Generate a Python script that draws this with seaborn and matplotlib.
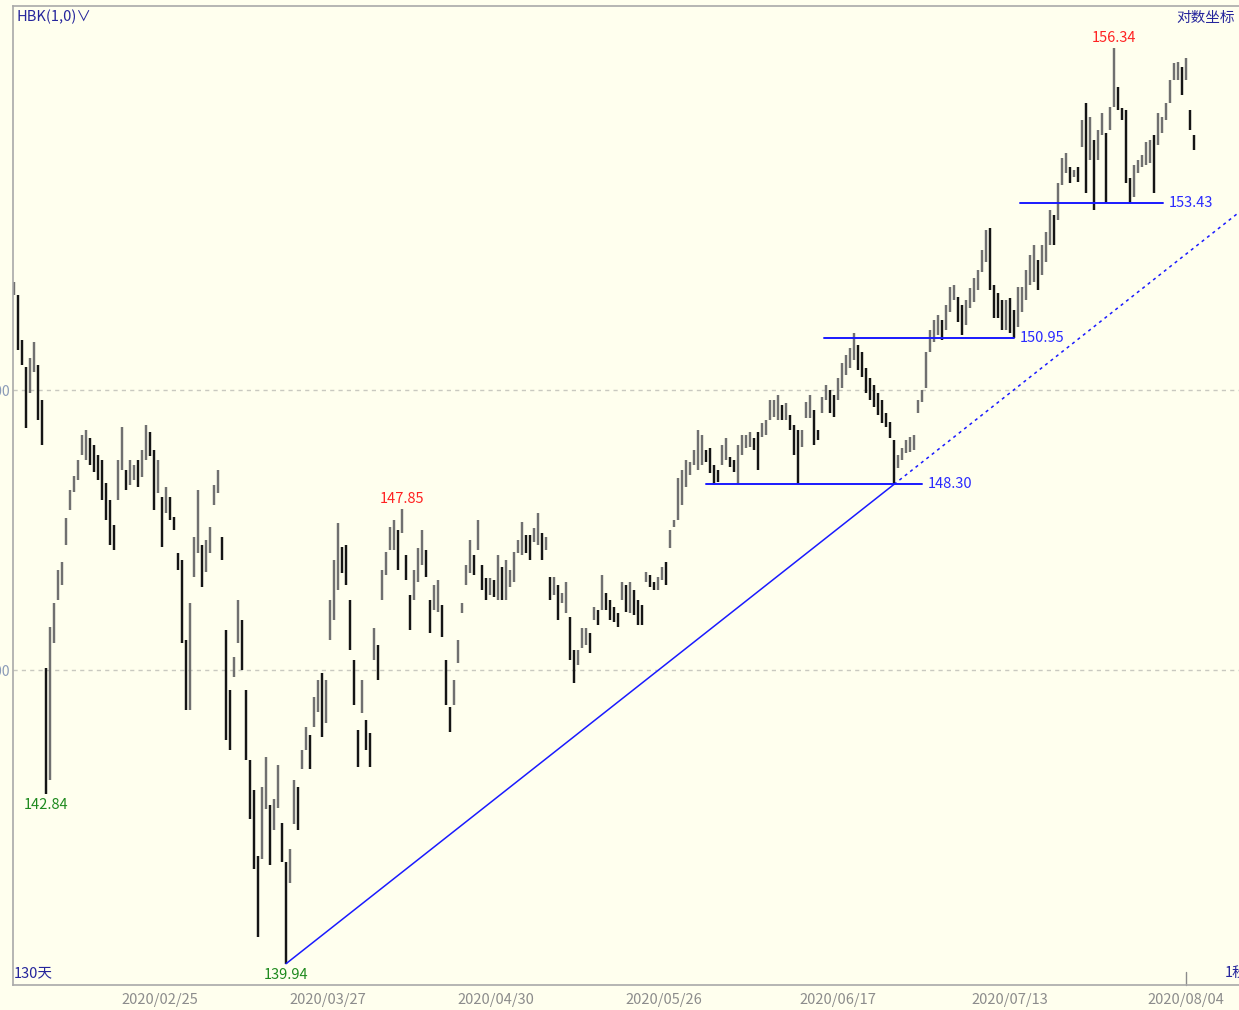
import numpy as np
import pandas as pd
import seaborn as sns
import matplotlib.pyplot as plt
from matplotlib.ticker import NullLocator, FixedLocator, FixedFormatter
import matplotlib.transforms as mtransforms

# bar highs / lows, one bar per slot
high = [
    151.98, 151.74, 150.91, 150.42, 150.58, 150.88, 150.46, 149.82, 145.04, 145.76,
    146.19, 146.77, 146.92, 147.70, 148.20, 148.45, 148.74, 149.19, 149.28, 149.14,
    149.01, 148.83, 148.74, 148.33, 148.02, 147.58, 148.74, 149.33, 148.56, 148.74,
    148.65, 148.74, 148.92, 149.37, 149.24, 148.92, 148.74, 148.07, 148.25, 148.07,
    147.72, 147.08, 146.95, 145.54, 146.19, 147.36, 148.20, 147.22, 147.31, 147.54,
    148.29, 148.56, 147.36, 145.71, 144.66, 145.24, 146.24, 145.89, 144.66, 143.44,
    142.92, 141.77, 142.97, 143.49, 142.66, 142.75, 143.35, 142.35, 141.68, 141.89,
    143.09, 142.97, 143.61, 144.01, 143.87, 144.53, 144.83, 144.96, 144.83, 146.24,
    146.95, 147.61, 147.18, 147.22, 146.24, 145.18, 143.96, 144.83, 144.13, 143.91,
    145.75, 145.45, 146.77, 147.09, 147.54, 147.66, 147.49, 147.85, 147.04, 146.33,
    146.77, 147.17, 147.49, 147.13, 146.24, 146.51, 146.60, 146.15, 145.18, 144.36,
    144.83, 145.54, 146.19, 146.86, 147.31, 147.04, 147.66, 146.86, 146.63, 146.63,
    146.60, 147.04, 146.83, 146.95, 146.77, 147.09, 147.31, 147.63, 147.40, 147.40,
    147.52, 147.79, 147.43, 147.36, 146.65, 146.65, 146.51, 146.37, 146.55, 145.94,
    145.36, 145.36, 145.75, 145.75, 145.66, 146.12, 146.06, 146.69, 146.37, 146.24,
    146.12, 146.01, 146.55, 146.51, 146.55, 146.42, 146.24, 146.15, 146.74, 146.69,
    146.56, 146.65, 146.83, 146.92, 147.49, 147.66, 148.42, 148.56, 148.74, 148.70,
    148.92, 149.28, 149.19, 148.92, 148.96, 148.65, 148.56, 149.01, 149.14, 148.79,
    148.74, 149.01, 149.19, 149.19, 149.24, 149.14, 149.24, 149.41, 149.46, 149.82,
    149.82, 149.91, 149.73, 149.77, 149.55, 149.37, 149.28, 149.28, 149.78, 149.91,
    149.64, 149.28, 149.87, 150.09, 150.00, 149.91, 150.22, 150.49, 150.64, 150.77,
    151.04, 150.82, 150.69, 150.40, 150.22, 150.09, 149.95, 149.82, 149.59, 149.42,
    149.10, 148.83, 148.96, 149.10, 149.15, 149.19, 149.82, 150.00, 150.69, 151.10,
    151.28, 151.37, 151.28, 151.56, 151.89, 151.93, 151.70, 151.56, 151.65, 151.87,
    152.05, 152.20, 152.57, 152.94, 152.98, 151.93, 151.78, 151.65, 151.65, 151.69,
    151.47, 151.89, 151.89, 152.20, 152.48, 152.66, 152.39, 152.66, 152.90, 153.31,
    153.21, 153.80, 154.27, 154.36, 154.10, 154.05, 154.10, 154.98, 155.30, 155.04,
    154.61, 154.80, 155.12, 154.74, 155.23, 156.34, 155.61, 155.21, 155.17, 153.90,
    154.14, 154.23, 154.33, 154.57, 154.61, 154.70, 155.12, 155.04, 155.30, 155.74,
    156.06, 156.08, 155.98, 156.15, 155.17, 154.70,
]
low = [
    151.74, 150.73, 150.46, 149.31, 149.95, 150.33, 149.46, 149.01, 142.84, 143.09,
    145.48, 146.24, 146.51, 147.22, 147.84, 148.16, 148.38, 148.83, 148.74, 148.65,
    148.52, 148.38, 148.02, 147.66, 147.22, 147.13, 148.02, 148.56, 148.20, 148.29,
    148.38, 148.25, 148.43, 148.74, 148.81, 147.84, 148.15, 147.18, 147.79, 147.66,
    147.49, 146.77, 145.48, 144.31, 144.31, 146.65, 147.08, 146.46, 146.74, 147.08,
    147.93, 148.15, 146.95, 143.78, 143.61, 144.88, 145.48, 145.01, 143.44, 142.41,
    141.55, 140.40, 141.72, 142.58, 141.63, 142.23, 142.61, 141.67, 139.94, 141.32,
    142.32, 142.23, 143.27, 143.61, 143.27, 144.01, 144.27, 143.84, 144.08, 145.54,
    145.89, 146.42, 146.72, 146.51, 145.36, 144.39, 143.32, 144.25, 143.61, 143.32,
    145.18, 144.83, 146.24, 146.69, 147.13, 147.13, 146.77, 147.43, 146.60, 145.71,
    146.24, 146.55, 146.86, 146.65, 145.66, 146.06, 146.03, 145.59, 144.39, 143.92,
    144.39, 145.13, 146.01, 146.51, 146.72, 146.69, 147.13, 146.42, 146.24, 146.33,
    146.29, 146.24, 146.24, 146.24, 146.46, 146.55, 147.08, 147.04, 147.08, 146.95,
    147.26, 147.22, 146.95, 147.13, 146.24, 146.33, 145.89, 146.19, 146.01, 145.18,
    144.78, 145.10, 145.40, 145.45, 145.31, 145.89, 145.80, 146.06, 146.06, 145.89,
    145.85, 145.77, 146.24, 146.03, 146.01, 145.98, 145.80, 145.80, 146.55, 146.47,
    146.42, 146.42, 146.60, 146.51, 147.17, 147.54, 147.66, 147.93, 148.25, 148.47,
    148.65, 148.56, 148.65, 148.70, 148.51, 148.28, 148.34, 148.65, 148.74, 148.61,
    148.52, 148.30, 148.83, 148.96, 148.97, 148.92, 148.56, 149.15, 149.19, 149.46,
    149.51, 149.46, 149.46, 149.46, 149.28, 148.83, 148.30, 148.97, 149.50, 149.50,
    149.01, 149.10, 149.59, 149.82, 149.59, 149.51, 149.82, 150.04, 150.28, 150.40,
    150.55, 150.37, 150.24, 149.95, 149.82, 149.69, 149.55, 149.41, 149.33, 149.14,
    148.30, 148.60, 148.74, 148.87, 148.88, 148.92, 149.59, 149.78, 150.04, 150.69,
    150.88, 151.01, 150.91, 151.10, 151.43, 151.65, 151.25, 151.01, 151.19, 151.50,
    151.61, 151.83, 152.16, 152.35, 151.83, 151.32, 151.32, 151.10, 151.10, 151.04,
    150.95, 151.15, 151.43, 151.65, 151.93, 151.98, 151.83, 152.11, 152.35, 152.66,
    152.66, 153.12, 153.77, 153.99, 153.80, 153.92, 153.82, 154.48, 153.62, 154.23,
    153.31, 154.23, 154.70, 153.43, 154.80, 155.23, 155.17, 154.98, 153.80, 153.43,
    153.55, 153.99, 154.10, 154.14, 154.18, 153.62, 154.51, 154.74, 154.98, 155.30,
    155.74, 155.74, 155.45, 155.74, 154.80, 154.42,
]

date_labels = ["2020/02/25", "2020/03/27", "2020/04/30", "2020/05/26",
               "2020/06/17", "2020/07/13", "2020/08/04"]
date_slots = [36.5, 78.5, 120.5, 162.5, 206, 249, 293]

grid_levels = [145.0, 150.0]
grid_labels = ["145.00", "150.00"]

# trend line anchors (slot, price)
trend_slots = [68, 220]
trend_prices = [139.94, 148.30]

# horizontal support levels: price, first slot, last slot
level_prices = [148.30, 150.95, 153.43]
level_start = [173, 202.5, 251.5]
level_end = [227, 250, 287.25]

# marked extremes
peak_slots = [275, 97]
peak_prices = [156.34, 147.85]
trough_slots = [8, 68]
trough_prices = [142.84, 139.94]

BG = "#ffffee"
W, H = 1239, 1010

sns.set_theme(style="white")
plt.rcParams['font.family'] = ['Liberation Sans Narrow', 'Noto Sans CJK SC', 'DejaVu Sans']

df = pd.DataFrame({"slot": np.arange(len(high)), "high": high, "low": low})
mid = (df["high"] + df["low"]) / 2
colors = ["#707070" if i == 0 or mid[i] >= mid[i - 1] else "#151515" for i in range(len(df))]

fig = plt.figure(figsize=(W / 100, H / 100), dpi=100, facecolor=BG)
ax = fig.add_axes([13 / W, 1 - 985 / H, 1 - 13 / W, (985 - 6) / H])
ax.set_facecolor(BG)
ax.set_yscale("log")
ax.set_xlim(-0.25, 306.25)
ax.set_ylim(139.58, 157.14)

for lvl in grid_levels:
    ax.axhline(lvl, color="#c9c9c0", lw=1, dashes=(3, 3), zorder=0)

ax.vlines(df["slot"], df["low"], df["high"], colors=colors, lw=1.75, zorder=2)

# trend line: solid between anchors, dotted extension to the right edge
ls = np.log(trend_prices)
slope = (ls[1] - ls[0]) / (trend_slots[1] - trend_slots[0])
sns.lineplot(x=trend_slots, y=trend_prices, color="#1a1aff", lw=1.1, ax=ax, zorder=3)
x_ext = [trend_slots[1], 306.25]
y_ext = [trend_prices[1], float(np.exp(ls[1] + slope * (306.25 - trend_slots[1])))]
ax.plot(x_ext, y_ext, color="#1a1aff", lw=1.1, ls=(0, (2, 2.5)), zorder=3)

for p, s, e in zip(level_prices, level_start, level_end):
    sns.lineplot(x=[s, e], y=[p, p], color="#1a1aff", lw=1.4, ax=ax, zorder=3)
    ax.annotate(f"{p:.2f}", (e, p), xytext=(6, 0), textcoords="offset pixels",
                ha="left", va="center", color="#2a2aff", fontsize=10.5)

for s, p in zip(peak_slots, peak_prices):
    ax.annotate(f"{p:.2f}", (s, p), xytext=(0, 3), textcoords="offset pixels",
                ha="center", va="bottom", color="#ff2222", fontsize=10.5)
for s, p in zip(trough_slots, trough_prices):
    ax.annotate(f"{p:.2f}", (s, p), xytext=(0, -4), textcoords="offset pixels",
                ha="center", va="top", color="#1e8a1e", fontsize=10.5)

# axes styling
for side in ["left", "bottom", "top"]:
    ax.spines[side].set_color("#a9a9a9")
    ax.spines[side].set_linewidth(1.2)
ax.spines["right"].set_visible(False)

ax.yaxis.set_major_locator(FixedLocator(grid_levels))
ax.yaxis.set_major_formatter(FixedFormatter(grid_labels))
ax.yaxis.set_minor_locator(NullLocator())
ax.tick_params(axis="y", length=0, pad=2, labelsize=10, labelcolor="#8a9ab8")

ax.set_xticks(date_slots)
ax.set_xticklabels(date_labels)
ax.tick_params(axis="x", length=0, pad=6, labelsize=10.5, labelcolor="#8c8c8c")
ax.grid(False)

# small tick above the last date
trans = mtransforms.blended_transform_factory(ax.transData, ax.transAxes)
ax.plot([date_slots[-1], date_slots[-1]], [0, 13 / 979], color="#8c8c8c", lw=1,
        transform=trans, clip_on=False)

navy = "#25259c"
fig.text(17 / W, 1 - 17 / H, "HBK(1,0)\u2228", color=navy, fontsize=10.5, va="center", ha="left")
fig.text(1235 / W, 1 - 18 / H, "对数坐标", color=navy, fontsize=10.5, va="center", ha="right")
fig.text(14 / W, 1 - 973 / H, "130天", color=navy, fontsize=10.5, va="center", ha="left")
fig.text(1225 / W, 1 - 973 / H, "1秒", color=navy, fontsize=10.5, va="center", ha="left")

fig.savefig("out.png", dpi=100, facecolor=BG)
